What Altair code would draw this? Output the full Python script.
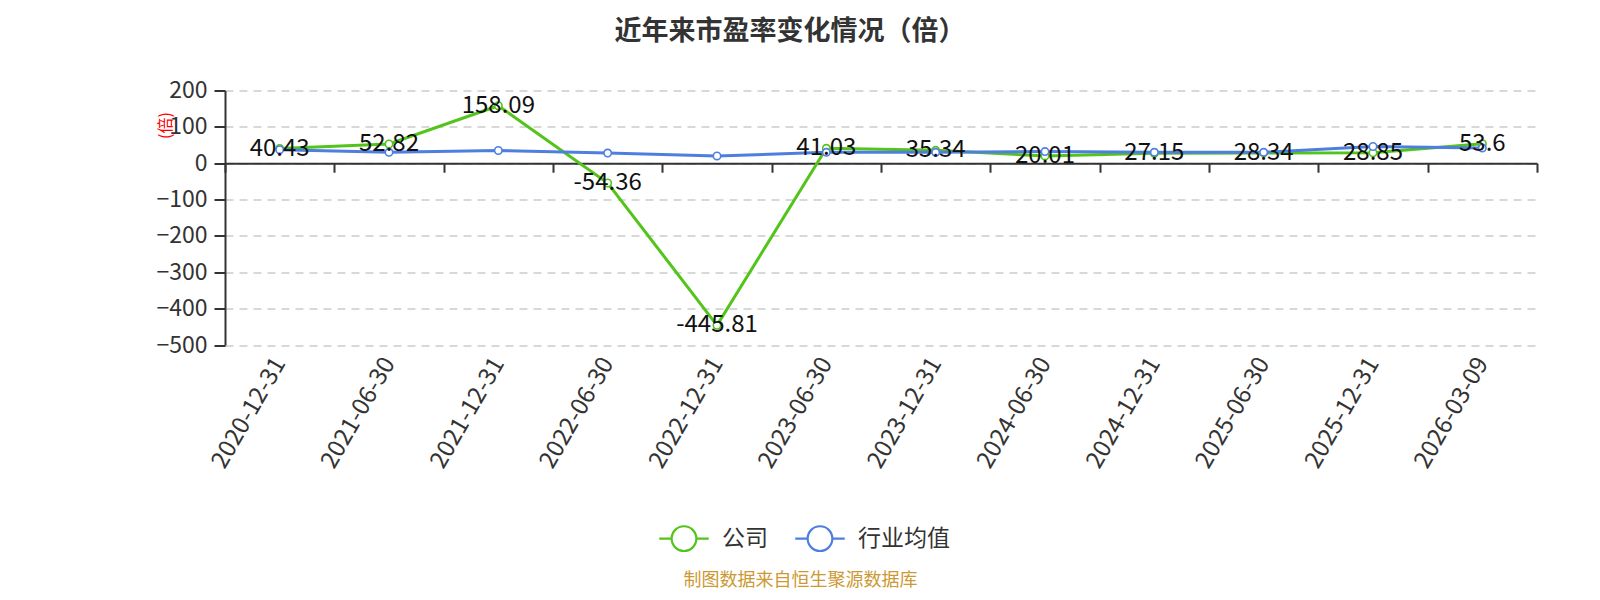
import altair as alt
import pandas as pd

dates = ["2020-12-31", "2021-06-30", "2021-12-31", "2022-06-30", "2022-12-31", "2023-06-30",
         "2023-12-31", "2024-06-30", "2024-12-31", "2025-06-30", "2025-12-31", "2026-03-09"]
company = [40.43, 52.82, 158.09, -54.36, -445.81, 41.03, 35.34, 20.01, 27.15, 28.34, 28.85, 53.6]
industry = [37, 30, 35, 28, 20, 30, 30, 32, 30, 30, 46, 42]
series_names = ["公司", "行业均值"]
colors = ["#52c41a", "#4e7fe0"]
y_ticks = [-500, -400, -300, -200, -100, 0, 100, 200]

rows = []
for d, c in zip(dates, company):
    rows.append({"date": d, "series": series_names[0], "value": c, "label": f"{c:g}"})
for d, v in zip(dates, industry):
    rows.append({"date": d, "series": series_names[1], "value": v, "label": f"{v:g}"})
df = pd.DataFrame(rows)

FONT = "Noto Sans CJK SC"

x_enc = alt.X(
    "date:N",
    sort=dates,
    bandPosition=0.5,
    scale=alt.Scale(type="band", paddingInner=0, paddingOuter=0),
    axis=alt.Axis(
        title="制图数据来自恒生聚源数据库",
        titleColor="#cc9933",
        titleFontSize=18,
        titleFontWeight="normal",
        titleX=575,
        titleY=417,
        titleAlign="center",
        titleBaseline="middle",
        offset=-181.8,
        domainColor="#333333",
        domainWidth=2,
        tickBand="extent",
        tickColor="#333333",
        tickWidth=2,
        tickSize=9,
        labelAngle=-60,
        labelFontSize=24,
        labelColor="#333333",
        labelPadding=187,
        labelAlign="right",
        labelBaseline="middle",
        grid=False,
    ),
)

y_enc = alt.Y(
    "value:Q",
    scale=alt.Scale(domain=[-500, 200], nice=False),
    axis=alt.Axis(
        values=y_ticks,
        title="(倍)",
        titleColor="#ff0000",
        titleFontSize=16,
        titleFontWeight="normal",
        titleX=-60,
        titleY=34.5,
        titleAngle=-90,
        titleAlign="center",
        titleBaseline="middle",
        domainColor="#333333",
        domainWidth=2,
        tickColor="#333333",
        tickWidth=2,
        tickSize=11,
        labelFontSize=23,
        labelColor="#333333",
        labelPadding=7,
        grid=True,
        gridColor="#cccccc",
        gridDash=[8, 6],
        gridWidth=1.5,
    ),
)

legend_path = ("M-1,0 L-0.5,0 M0.5,0 L1,0 "
               "M0.5,0 A0.5,0.5 0 1,1 -0.5,0 A0.5,0.5 0 1,1 0.5,0 Z")

color_enc = alt.Color(
    "series:N",
    scale=alt.Scale(domain=series_names, range=colors),
    legend=alt.Legend(
        title=None,
        orient="none",
        legendX=433,
        legendY=422,
        direction="horizontal",
        symbolType=legend_path,
        symbolSize=2450,
        symbolStrokeWidth=2.2,
        symbolFillColor="white",
        labelFontSize=23,
        labelColor="#333333",
        labelOffset=12,
        columnPadding=22,
    ),
)

base = alt.Chart(df).encode(x=x_enc, y=y_enc)

lines = base.mark_line(strokeWidth=3).encode(
    color=color_enc,
    order=alt.Order("series:N"),
)

points = base.mark_point(filled=True, fill="white", size=55, strokeWidth=1.6, shape="circle", opacity=1).encode(
    stroke=alt.Stroke("series:N", scale=alt.Scale(domain=series_names, range=colors), legend=None),
)

labels = base.transform_filter(alt.datum.series == series_names[0]).mark_text(
    fontSize=24, color="#111111", align="center", baseline="middle"
).encode(text="label:N")

chart = alt.layer(lines, points, labels).properties(
    width=1312,
    height=254.5,
    autosize=alt.AutoSizeParams(type="none"),
    padding={"left": 217, "top": 82.5, "right": 40, "bottom": 247},
    title=alt.TitleParams(
        text="近年来市盈率变化情况（倍）",
        fontSize=27,
        fontWeight="bold",
        color="#333333",
        anchor="middle",
        dx=-91,
        offset=34,
    ),
).configure(font=FONT).configure_view(stroke=None)

chart.save("out.html", embed_options={"renderer": "svg", "actions": False})
